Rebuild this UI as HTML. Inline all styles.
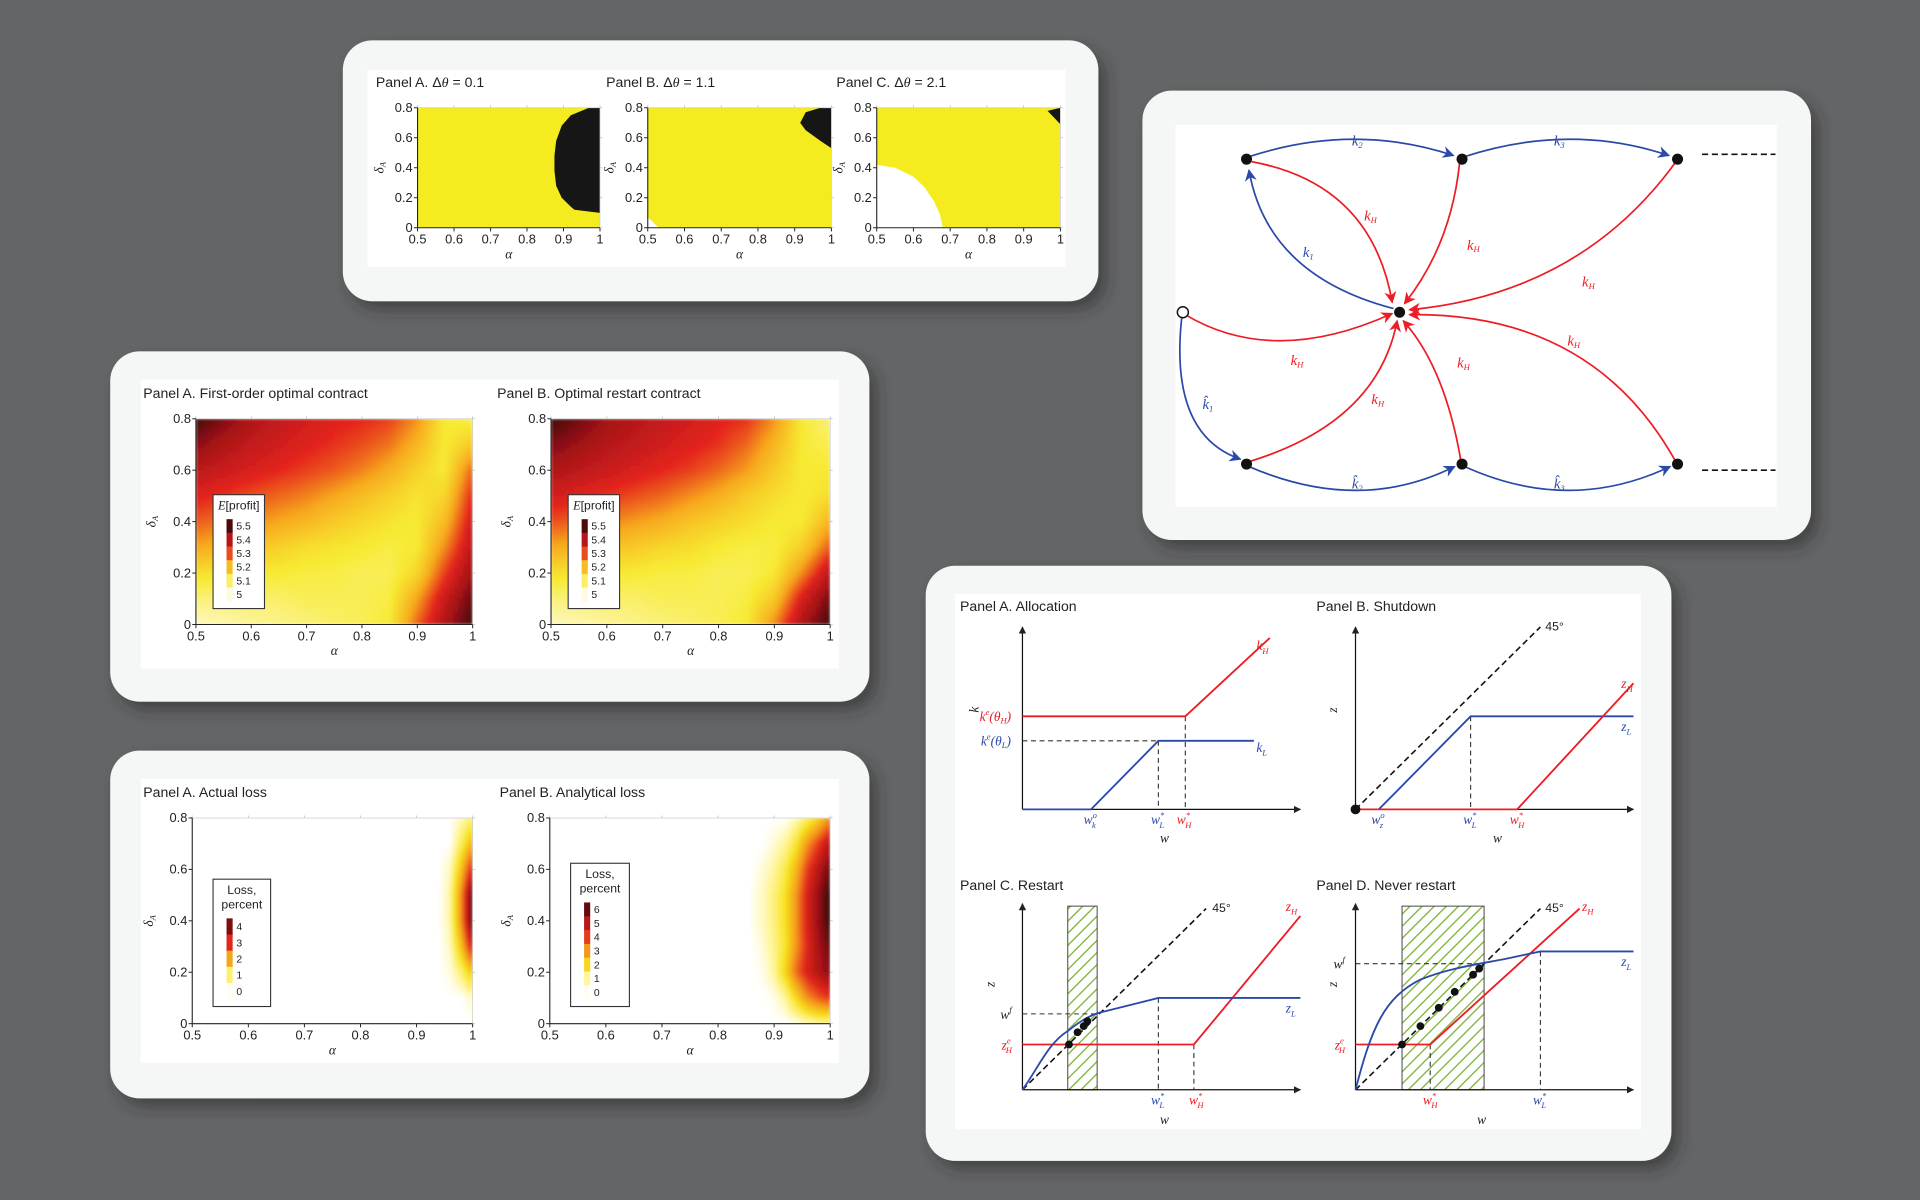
<!DOCTYPE html>
<html><head><meta charset="utf-8"><title>Figures collage</title>
<style>
html,body{margin:0;padding:0;background:#646567;}
svg{display:block;}
text{font-family:"Liberation Sans",sans-serif;}
.m{font-family:"Liberation Serif",serif;font-style:italic;}
</style></head>
<body>
<svg id="root" xmlns="http://www.w3.org/2000/svg" width="1920" height="1200" viewBox="0 0 1568 980" preserveAspectRatio="none">
<defs>
<filter id="shadow" x="-10%" y="-10%" width="130%" height="130%"><feDropShadow dx="6" dy="7" stdDeviation="6" flood-color="#2b2b2b" flood-opacity="0.55"/></filter>
<filter id="blur2" x="-5%" y="-5%" width="110%" height="110%"><feGaussianBlur stdDeviation="1.2"/></filter>
<pattern id="hatch" width="7" height="7" patternUnits="userSpaceOnUse" patternTransform="rotate(45)"><rect width="7" height="7" fill="#fff"/><line x1="0" y1="0" x2="0" y2="7" stroke="#7fb53a" stroke-width="2.2"/></pattern>
<marker id="arB" viewBox="0 0 10 10" refX="9" refY="5" markerWidth="7" markerHeight="7" orient="auto"><path d="M0,0 L10,5 L0,10 L3,5 z" fill="#2b49a8"/></marker>
<marker id="arR" viewBox="0 0 10 10" refX="9" refY="5" markerWidth="7" markerHeight="7" orient="auto"><path d="M0,0 L10,5 L0,10 L3,5 z" fill="#ee1c24"/></marker>
<marker id="arK" viewBox="0 0 10 10" refX="9" refY="5" markerWidth="6" markerHeight="6" orient="auto"><path d="M0,0 L10,5 L0,10 z" fill="#222"/></marker>
</defs>
<rect width="1568" height="980" fill="#646567"/>
<g id="cards"></g>
</svg>
<script>
// ---------- DATA ----------
const alphaTicks = [0.5,0.6,0.7,0.8,0.9,1];
const alphaTickLabels = ["0.5","0.6","0.7","0.8","0.9","1"];
const deltaTicks = [0,0.2,0.4,0.6,0.8];
const deltaTickLabels = ["0","0.2","0.4","0.6","0.8"];
// Figure 1 region boundaries (alpha, delta) pairs
const blackA_alpha = [1.0,0.97,0.92,0.895,0.88,0.875,0.875,0.88,0.895,0.92,0.93,1.0];
const blackA_delta = [0.8,0.8,0.75,0.68,0.58,0.48,0.38,0.28,0.2,0.14,0.12,0.1];
const blackB_alpha = [1.0,0.97,0.93,0.915,0.93,0.97,1.0];
const blackB_delta = [0.8,0.8,0.77,0.7,0.65,0.58,0.53];
const whiteB_alpha = [0.5,0.5,0.53];
const whiteB_delta = [0,0.07,0];
const blackC_alpha = [1.0,0.965,1.0];
const blackC_delta = [0.8,0.78,0.69];
const whiteC_alpha = [0.5,0.5,0.55,0.6,0.63,0.655,0.672,0.68];
const whiteC_delta = [0,0.42,0.4,0.34,0.27,0.18,0.09,0];
// Figure 2 expected profit grid (rows delta 0.8 -> 0, cols alpha 0.5..1 step .05)
const profitAlpha = [0.5,0.55,0.6,0.65,0.7,0.75,0.8,0.85,0.9,0.95,1.0];
const profitDelta = [0.8,0.7,0.6,0.5,0.4,0.3,0.2,0.1,0.0];
const profitA = [
 [5.48,5.43,5.38,5.35,5.33,5.31,5.30,5.28,5.22,5.10,5.08],
 [5.42,5.38,5.35,5.33,5.31,5.29,5.27,5.24,5.18,5.10,5.15],
 [5.36,5.34,5.32,5.30,5.28,5.26,5.23,5.19,5.14,5.10,5.25],
 [5.31,5.29,5.27,5.25,5.23,5.20,5.17,5.14,5.11,5.13,5.30],
 [5.26,5.24,5.22,5.20,5.18,5.15,5.13,5.11,5.10,5.17,5.33],
 [5.20,5.18,5.16,5.14,5.12,5.11,5.10,5.09,5.10,5.22,5.36],
 [5.12,5.11,5.10,5.10,5.09,5.09,5.08,5.08,5.13,5.28,5.40],
 [5.06,5.06,5.07,5.07,5.08,5.08,5.08,5.09,5.20,5.34,5.45],
 [5.02,5.03,5.04,5.05,5.06,5.07,5.08,5.10,5.25,5.38,5.48]];
const profitB = [
 [5.48,5.44,5.40,5.37,5.35,5.33,5.31,5.29,5.22,5.10,5.06],
 [5.43,5.40,5.37,5.35,5.33,5.31,5.29,5.25,5.18,5.10,5.08],
 [5.38,5.36,5.34,5.32,5.30,5.28,5.25,5.21,5.15,5.10,5.10],
 [5.33,5.31,5.29,5.27,5.25,5.22,5.19,5.15,5.12,5.10,5.12],
 [5.27,5.25,5.23,5.21,5.19,5.16,5.14,5.12,5.10,5.10,5.18],
 [5.20,5.18,5.16,5.15,5.13,5.12,5.10,5.09,5.09,5.14,5.26],
 [5.12,5.11,5.10,5.10,5.09,5.09,5.08,5.08,5.10,5.22,5.36],
 [5.06,5.06,5.07,5.07,5.08,5.08,5.08,5.09,5.15,5.32,5.44],
 [5.02,5.03,5.04,5.05,5.06,5.07,5.08,5.10,5.22,5.38,5.48]];
const profitLegendLabels = ["5.5","5.4","5.3","5.2","5.1","5"];
// Figure 3 loss grid (rows delta 0.8 -> 0, cols alpha 0.86..1 step .02)
const lossAlpha = [0.86,0.88,0.90,0.92,0.94,0.96,0.98,1.0];
const lossDelta = [0.8,0.7,0.6,0.5,0.4,0.3,0.2,0.1,0.0];
const lossA = [
 [0,0,0,0,0,0,0.2,0.5],
 [0,0,0,0,0,0,0.6,1.4],
 [0,0,0,0,0,0.2,1.2,2.6],
 [0,0,0,0,0,0.3,1.7,3.8],
 [0,0,0,0,0,0.3,1.7,3.8],
 [0,0,0,0,0,0.2,1.2,2.8],
 [0,0,0,0,0,0.1,0.5,1.2],
 [0,0,0,0,0,0,0,0.2],
 [0,0,0,0,0,0,0,0]];
const lossB = [
 [0,0,0,0,0.3,0.8,1.5,2.5],
 [0,0,0.2,0.5,1.2,2.5,3.5,4.5],
 [0,0.2,0.5,1.0,2.0,3.5,4.5,5.5],
 [0.1,0.3,0.7,1.3,2.5,4.0,5.0,6.0],
 [0.1,0.3,0.7,1.3,2.5,4.0,5.0,6.0],
 [0,0.2,0.6,1.2,2.5,3.8,4.8,5.5],
 [0,0.1,0.5,1.5,3.0,4.0,4.6,5.2],
 [0,0,0.1,0.5,1.5,2.6,3.2,3.6],
 [0,0,0,0,0.1,0.3,0.5,0.5]];
const lossLegendA = ["4","3","2","1","0"];
const lossLegendB = ["6","5","4","3","2","1","0"];

// ---------- HELPERS ----------
const NS = "http://www.w3.org/2000/svg";
const root = document.getElementById('cards');
function mk(parent, tag, attrs, name, txt){
  const el = document.createElementNS(NS, tag);
  for (const k in attrs) el.setAttribute(k, attrs[k]);
  
  
  if (txt !== undefined) el.textContent = txt;
  parent.appendChild(el);
  return el;
}
function tx(parent, x, y, s, name, o){
  o = o || {};
  const a = {x:x, y:y, 'font-size': o.fs || 10, fill: o.fill || '#222'};
  if (o.anchor) a['text-anchor'] = o.anchor;
  if (o.cls) a['class'] = o.cls;
  if (o.transform) a.transform = o.transform;
  const t = mk(parent, 'text', a, name);
  t.innerHTML = s;
  return t;
}
function lerpColor(stops, t){
  t = Math.max(0, Math.min(1, t));
  for (let i=1;i<stops.length;i++){
    if (t <= stops[i][0]){
      const a = stops[i-1], b = stops[i], f = (t-a[0])/(b[0]-a[0]||1);
      const ca = a[1], cb = b[1];
      const c = [0,1,2].map(j => Math.round(ca[j] + (cb[j]-ca[j])*f));
      return 'rgb('+c.join(',')+')';
    }
  }
  return 'rgb('+stops[stops.length-1][1].join(',')+')';
}
const profitStops = [[0,[255,251,225]],[0.2,[247,234,50]],[0.4,[247,168,30]],[0.6,[228,36,28]],[0.8,[160,18,24]],[1,[40,6,6]]];
const lossStops = [[0,[255,255,255]],[0.08,[255,246,160]],[0.22,[247,226,30]],[0.42,[245,150,28]],[0.62,[226,40,26]],[0.82,[160,16,24]],[1,[45,5,5]]];

function card(x,y,w,h,name,inner){
  const g = mk(root,'g',{},name);
  mk(g,'rect',{x:x,y:y,width:w,height:h,rx:24,ry:24,fill:'#f5f7f6',filter:'url(#shadow)'},name+'-bg');
  if (inner) mk(g,'rect',{x:inner[0],y:inner[1],width:inner[2],height:inner[3],fill:'#ffffff'},name+'-plot-area');
  return g;
}
function axes(g, x0,x1,y0,y1, pre, yl){
  const sx = a => x0 + (a-0.5)/0.5*(x1-x0);
  const sy = d => y0 - d/0.8*(y0-y1);
  mk(g,'line',{x1:x0,y1:y1,x2:x1,y2:y1,stroke:'#ccc','stroke-width':0.6},pre+'-frame-top');
  mk(g,'line',{x1:x1,y1:y1,x2:x1,y2:y0,stroke:'#ccc','stroke-width':0.6},pre+'-frame-right');
  mk(g,'line',{x1:x0,y1:y0,x2:x1,y2:y0,stroke:'#222','stroke-width':0.9},pre+'-x-axis');
  mk(g,'line',{x1:x0,y1:y1,x2:x0,y2:y0,stroke:'#222','stroke-width':0.9},pre+'-y-axis');
  alphaTicks.forEach((a,i)=>{
    mk(g,'line',{x1:sx(a),y1:y0,x2:sx(a),y2:y0+3,stroke:'#222','stroke-width':0.8},pre+'-x-tick');
    mk(g,'line',{x1:sx(a),y1:y1,x2:sx(a),y2:y1-2,stroke:'#bbb','stroke-width':0.6},pre+'-x-tick-top');
    tx(g,sx(a),y0+13,alphaTickLabels[i],pre+'-x-tick-label',{anchor:'middle',fs:10.5});
  });
  deltaTicks.forEach((d,i)=>{
    mk(g,'line',{x1:x0-3,y1:sy(d),x2:x0,y2:sy(d),stroke:'#222','stroke-width':0.8},pre+'-y-tick');
    mk(g,'line',{x1:x1,y1:sy(d),x2:x1+2,y2:sy(d),stroke:'#bbb','stroke-width':0.6},pre+'-y-tick-right');
    tx(g,x0-4,sy(d)+3.5,deltaTickLabels[i],pre+'-y-tick-label',{anchor:'end',fs:10.5});
  });
  tx(g,(x0+x1)/2,y0+25,'α',pre+'-x-axis-title',{anchor:'middle',fs:11,cls:'m'});
  tx(g,yl,(y0+y1)/2,'δ<tspan font-size="7" dy="2">A</tspan>',pre+'-y-axis-title',{anchor:'middle',fs:11,cls:'m',transform:'rotate(-90 '+yl+' '+((y0+y1)/2)+')'});
  return {sx, sy};
}
function regionPath(g, sc, al, de, fill, name){
  let d = '';
  al.forEach((a,i)=>{ d += (i?'L':'M') + sc.sx(a).toFixed(1)+','+sc.sy(de[i]).toFixed(1); });
  mk(g,'path',{d:d+'Z',fill:fill},name);
}

// ---------- CARD 1 ----------
(function(){
  const g = card(280,33,617,213,'regime-card',[300,57,570,161]);
  const panels = [
    {x0:341,x1:490,t:'Panel A. Δ<tspan class="m">θ</tspan> = 0.1',tx:307,regs:[[blackA_alpha,blackA_delta,'#161616','black-region-a']]},
    {x0:529,x1:679,t:'Panel B. Δ<tspan class="m">θ</tspan> = 1.1',tx:495,regs:[[blackB_alpha,blackB_delta,'#161616','black-region-b'],[whiteB_alpha,whiteB_delta,'#ffffff','white-region-b']]},
    {x0:716,x1:866,t:'Panel C. Δ<tspan class="m">θ</tspan> = 2.1',tx:683,regs:[[blackC_alpha,blackC_delta,'#161616','black-region-c'],[whiteC_alpha,whiteC_delta,'#ffffff','white-region-c']]}];
  panels.forEach((p,i)=>{
    const pg = mk(g,'g',{},'regime-panel-'+'abc'[i]);
    tx(pg,p.tx,71,p.t,'panel-title',{fs:11.5});
    mk(pg,'rect',{x:p.x0,y:88,width:p.x1-p.x0,height:98,fill:'#f4ec1e'},'yellow-region');
    const sc = {sx:a=>p.x0+(a-0.5)/0.5*(p.x1-p.x0), sy:d=>186-d/0.8*98};
    p.regs.forEach(r=>regionPath(pg,sc,r[0],r[1],r[2],r[3]));
    axes(pg,p.x0,p.x1,186,88,'regime-'+'abc'[i],p.x0-28);
  });
})();

// ---------- heatmap (bilinear shading between data grid points) ----------
function heatmap(g, sc, alphas, deltas, grid, scaleFn, clipId, x0,x1,y0,y1, name){
  const cp = mk(g,'clipPath',{id:clipId},name+'-clip');
  mk(cp,'rect',{x:x0,y:y1,width:x1-x0,height:y0-y1},name+'-clip-rect');
  const outer = mk(g,'g',{'clip-path':'url(#'+clipId+')'},name);
  const inner = mk(outer,'g',{filter:'url(#blur2)'},name+'-cells');
  const N = 6;
  for (let r=0;r<grid.length-1;r++){
    for (let c=0;c<grid[r].length-1;c++){
      const v00=grid[r][c], v01=grid[r][c+1], v10=grid[r+1][c], v11=grid[r+1][c+1];
      const xa=sc.sx(alphas[c]), xb=sc.sx(alphas[c+1]), ya=sc.sy(deltas[r]), yb=sc.sy(deltas[r+1]);
      const w=(xb-xa)/N, h=(yb-ya)/N;
      for (let i=0;i<N;i++) for (let j=0;j<N;j++){
        const fx=(j+0.5)/N, fy=(i+0.5)/N;
        const v=(v00*(1-fx)+v01*fx)*(1-fy)+(v10*(1-fx)+v11*fx)*fy;
        mk(inner,'rect',{x:(xa+j*w-0.3).toFixed(2),y:(ya+i*h-0.3).toFixed(2),width:(w+0.6).toFixed(2),height:(h+0.6).toFixed(2),fill:scaleFn(v)},'heatmap-cell');
      }
    }
  }
}
function legendBox(g,x,y,w,h,titleLines,labels,scaleFn,vals,name){
  const lg = mk(g,'g',{},name);
  mk(lg,'rect',{x:x,y:y,width:w,height:h,fill:'#fff',stroke:'#333','stroke-width':0.9},name+'-box');
  titleLines.forEach((s,i)=>tx(lg,x+w/2,y+12+i*12,s,name+'-title',{anchor:'middle',fs:10}));
  const top = y+8+titleLines.length*12, bot = y+h-6, step=(bot-top)/labels.length;
  vals.forEach((v,i)=>{
    mk(lg,'rect',{x:x+11,y:top+i*step,width:5,height:step+0.5,fill:scaleFn(v)},name+'-swatch');
    tx(lg,x+19,top+i*step+step/2+3,labels[i],name+'-label',{fs:8.5});
  });
}

// ---------- CARD 2 (profit) ----------
(function(){
  const g = card(90,287,620,286,'profit-card',[115,310,570,236]);
  const pscale = v => lerpColor(profitStops,(v-5.0)/0.5);
  const P = [{x0:160,x1:386,t:'Panel A. First-order optimal contract',tx:117,grid:profitA,lx:174},
             {x0:450,x1:678,t:'Panel B. Optimal restart contract',tx:406,grid:profitB,lx:464}];
  P.forEach((p,i)=>{
    const pg = mk(g,'g',{},'profit-panel-'+'ab'[i]);
    tx(pg,p.tx,325,p.t,'panel-title',{fs:11.5});
    const sc = {sx:a=>p.x0+(a-0.5)/0.5*(p.x1-p.x0), sy:d=>510-d/0.8*168};
    heatmap(pg,sc,profitAlpha,profitDelta,p.grid,pscale,'pclip'+i,p.x0,p.x1,510,342,'profit-heatmap');
    axes(pg,p.x0,p.x1,510,342,'profit-'+'ab'[i],p.x0-33);
    legendBox(pg,p.lx,404,42,93,['<tspan class="m">E</tspan>[profit]'],profitLegendLabels,pscale,[5.47,5.37,5.27,5.17,5.07,5.0],'profit-legend');
  });
})();

// ---------- CARD 3 (loss) ----------
(function(){
  const g = card(90,613,620,284,'loss-card',[115,636,570,232]);
  const P = [{x0:157,x1:386,t:'Panel A. Actual loss',tx:117,grid:lossA,max:4,lx:174,ly:718,lh:104,labs:lossLegendA},
             {x0:449,x1:678,t:'Panel B. Analytical loss',tx:408,grid:lossB,max:6,lx:466,ly:705,lh:117,labs:lossLegendB}];
  P.forEach((p,i)=>{
    const pg = mk(g,'g',{},'loss-panel-'+'ab'[i]);
    tx(pg,p.tx,651,p.t,'panel-title',{fs:11.5});
    const sc = {sx:a=>p.x0+(a-0.5)/0.5*(p.x1-p.x0), sy:d=>836-d/0.8*168};
    const ls = v => lerpColor(lossStops, v/p.max);
    heatmap(pg,sc,lossAlpha,lossDelta,p.grid,ls,'lclip'+i,p.x0,p.x1,836,668,'loss-heatmap');
    axes(pg,p.x0,p.x1,836,668,'loss-'+'ab'[i],p.x0-32);
    const vals = p.labs.map(s=>Math.max(parseFloat(s)-0.5,0.05));
    legendBox(pg,p.lx,p.ly,p.lh>110?48:47,p.lh,['Loss,','percent'],p.labs,ls,vals,'loss-legend');
  });
})();

// ---------- CARD 4 (network) ----------
(function(){
  const g = card(933,74,546,367,'network-card',[960,102,491,312]);
  const B='#2b49a8', R='#ee1c24';
  function edge(p0,c,p1,col,name){
    mk(g,'path',{d:'M'+p0+' Q'+c+' '+p1,fill:'none',stroke:col,'stroke-width':1.4,'marker-end':col===B?'url(#arB)':'url(#arR)'},name);
  }
  edge('1020,128','1105,100','1187,127',B,'edge-k2');
  edge('1196,128','1282,100','1363,127',B,'edge-k3');
  edge('1138,252','1035,225','1020,139',B,'edge-k1');
  edge('1022,132','1120,150','1137,247',R,'edge-kH-1');
  edge('1192,133','1185,200','1147,248',R,'edge-kH-2');
  edge('1368,133','1290,240','1151,253',R,'edge-kH-3');
  edge('968,257','1040,300','1137,256',R,'edge-kH-4');
  edge('1020,377','1125,345','1141,262',R,'edge-kH-5');
  edge('1193,376','1180,300','1146,262',R,'edge-kH-6');
  edge('1368,376','1300,255','1151,257',R,'edge-kH-7');
  edge('965,260','955,355','1013,375',B,'edge-khat1');
  edge('1020,381','1110,420','1188,381',B,'edge-khat2');
  edge('1196,381','1282,420','1364,381',B,'edge-khat3');
  [[1018,130],[1194,130],[1370,130],[1143,255],[1018,379],[1194,379],[1370,379]].forEach(p=>mk(g,'circle',{cx:p[0],cy:p[1],r:4.5,fill:'#111'},'node'));
  mk(g,'circle',{cx:966,cy:255,r:4.5,fill:'#fff',stroke:'#111','stroke-width':1.2},'start-node');
  mk(g,'line',{x1:1390,y1:126,x2:1450,y2:126,stroke:'#111','stroke-width':1.3,'stroke-dasharray':'5,3'},'continuation-top');
  mk(g,'line',{x1:1390,y1:384,x2:1450,y2:384,stroke:'#111','stroke-width':1.3,'stroke-dasharray':'5,3'},'continuation-bottom');
  const L=[[1104,119,'k<tspan font-size="7" dy="2">2</tspan>',B],[1269,119,'k<tspan font-size="7" dy="2">3</tspan>',B],[1064,210,'k<tspan font-size="7" dy="2">1</tspan>',B],
   [1114,180,'k<tspan font-size="7" dy="2">H</tspan>',R],[1198,204,'k<tspan font-size="7" dy="2">H</tspan>',R],[1292,234,'k<tspan font-size="7" dy="2">H</tspan>',R],
   [1054,298,'k<tspan font-size="7" dy="2">H</tspan>',R],[1120,330,'k<tspan font-size="7" dy="2">H</tspan>',R],[1190,300,'k<tspan font-size="7" dy="2">H</tspan>',R],[1280,282,'k<tspan font-size="7" dy="2">H</tspan>',R],
   [982,334,'k̂<tspan font-size="7" dy="2">1</tspan>',B],[1104,399,'k̂<tspan font-size="7" dy="2">2</tspan>',B],[1269,399,'k̂<tspan font-size="7" dy="2">3</tspan>',B]];
  L.forEach(l=>tx(g,l[0],l[1],l[2],'edge-label',{fs:12,cls:'m',fill:l[3]}));
})();

// ---------- CARD 5 (allocation diagrams) ----------
(function(){
  const g = card(756,462,609,486,'policy-card',[780,485,560,437]);
  const B='#2b49a8', R='#ee1c24', K='#111';
  function pl(pg,pts,col,name,dash,w){
    mk(pg,'polyline',{points:pts,fill:'none',stroke:col,'stroke-width':w||1.5,'stroke-dasharray':dash||'none'},name);
  }
  function ax(pg,x0,y0,yt,xr,pre){
    mk(pg,'line',{x1:x0,y1:y0,x2:x0,y2:yt,stroke:K,'stroke-width':1,'marker-end':'url(#arK)'},pre+'-y-axis');
    mk(pg,'line',{x1:x0,y1:y0,x2:xr,y2:y0,stroke:K,'stroke-width':1,'marker-end':'url(#arK)'},pre+'-x-axis');
  }
  const sub=(b,s)=>b+'<tspan font-size="7" dy="3">'+s+'</tspan>';
  const sup=(b,p,s)=>b+'<tspan font-size="7" dy="-5">'+p+'</tspan><tspan font-size="7" dx="-4" dy="8">'+s+'</tspan>';
  // Panel A
  let pg = mk(g,'g',{},'allocation-panel');
  tx(pg,784,499,'Panel A. Allocation','panel-title',{fs:11.5});
  ax(pg,835,661,512,1062,'allocation');
  pl(pg,'835,605 946,605','#333','kL-level-guide','4,3',0.9);
  pl(pg,'946,605 946,661','#333','wL-guide','4,3',0.9);
  pl(pg,'968,585 968,661','#333','wH-guide','4,3',0.9);
  pl(pg,'835,585 968,585 1037,521',R,'kH-line');
  pl(pg,'835,661 891,661 946,605 1024,605',B,'kL-line');
  tx(pg,795,586,'k','y-axis-title',{fs:11,cls:'m',transform:'rotate(-90 795 582)'});
  tx(pg,800,589,'k<tspan font-size="7" dy="-5">e</tspan><tspan dy="5">(θ</tspan><tspan font-size="7" dy="2">H</tspan><tspan dy="-2">)</tspan>','ke-thetaH-label',{fs:11,cls:'m',fill:R});
  tx(pg,801,609,'k<tspan font-size="7" dy="-5">e</tspan><tspan dy="5">(θ</tspan><tspan font-size="7" dy="2">L</tspan><tspan dy="-2">)</tspan>','ke-thetaL-label',{fs:11,cls:'m',fill:B});
  tx(pg,1026,531,sub('k','H'),'kH-label',{fs:11,cls:'m',fill:R});
  tx(pg,1026,614,sub('k','L'),'kL-label',{fs:11,cls:'m',fill:B});
  tx(pg,885,673,sup('w','o','k'),'wk-label',{fs:11,cls:'m',fill:B});
  tx(pg,940,673,sup('w','*','L'),'wL-label',{fs:11,cls:'m',fill:B});
  tx(pg,961,673,sup('w','*','H'),'wH-label',{fs:11,cls:'m',fill:R});
  tx(pg,951,688,'w','x-axis-title',{fs:11,cls:'m',anchor:'middle'});
  // Panel B
  pg = mk(g,'g',{},'shutdown-panel');
  tx(pg,1075,499,'Panel B. Shutdown','panel-title',{fs:11.5});
  ax(pg,1107,661,512,1334,'shutdown');
  pl(pg,'1107,661 1258,512',K,'diagonal-45','5,3',1.3);
  tx(pg,1262,515,'45°','diagonal-label',{fs:10});
  pl(pg,'1201,585 1201,661','#333','wL-guide','4,3',0.9);
  pl(pg,'1126,661 1201,585 1334,585',B,'zL-line');
  pl(pg,'1107,661 1239,661 1334,558',R,'zH-line');
  mk(pg,'circle',{cx:1107,cy:661,r:4,fill:K},'origin-dot');
  tx(pg,1324,562,sub('z','H'),'zH-label',{fs:11,cls:'m',fill:R});
  tx(pg,1324,597,sub('z','L'),'zL-label',{fs:11,cls:'m',fill:B});
  tx(pg,1088,586,'z','y-axis-title',{fs:11,cls:'m',transform:'rotate(-90 1088 582)'});
  tx(pg,1120,673,sup('w','o','z'),'wz-label',{fs:11,cls:'m',fill:B});
  tx(pg,1195,673,sup('w','*','L'),'wL-label',{fs:11,cls:'m',fill:B});
  tx(pg,1233,673,sup('w','*','H'),'wH-label',{fs:11,cls:'m',fill:R});
  tx(pg,1223,688,'w','x-axis-title',{fs:11,cls:'m',anchor:'middle'});
  // Panel C
  pg = mk(g,'g',{},'restart-panel');
  tx(pg,784,727,'Panel C. Restart','panel-title',{fs:11.5});
  mk(pg,'rect',{x:872,y:740,width:24,height:150,fill:'url(#hatch)',stroke:'#444','stroke-width':0.8},'restart-region');
  ax(pg,835,890,738,1062,'restart');
  pl(pg,'835,890 985,742',K,'diagonal-45','5,3',1.3);
  tx(pg,990,745,'45°','diagonal-label',{fs:10});
  pl(pg,'835,828 896,828','#333','wf-guide','4,3',0.9);
  pl(pg,'946,815 946,890','#333','wL-guide','4,3',0.9);
  pl(pg,'975,853 975,890','#333','wH-guide','4,3',0.9);
  pl(pg,'835,853 975,853 1062,748',R,'zH-line');
  mk(pg,'path',{d:'M835,890 C848,872 856,852 872,842 C882,834 890,829 898,827 L946,815 L1062,815',fill:'none',stroke:B,'stroke-width':1.5},'zL-curve');
  [[873,853],[880,843],[885,838],[888,834]].forEach(p=>mk(pg,'circle',{cx:p[0],cy:p[1],r:3.2,fill:K},'iterate-dot'));
  tx(pg,1050,744,sub('z','H'),'zH-label',{fs:11,cls:'m',fill:R});
  tx(pg,1050,827,sub('z','L'),'zL-label',{fs:11,cls:'m',fill:B});
  tx(pg,808,810,'z','y-axis-title',{fs:11,cls:'m',transform:'rotate(-90 808 806)'});
  tx(pg,817,832,'w<tspan font-size="7" dy="-5">f</tspan>','wf-label',{fs:11,cls:'m'});
  tx(pg,818,857,sup('z','e','H'),'zHe-label',{fs:11,cls:'m',fill:R});
  tx(pg,940,902,sup('w','*','L'),'wL-label',{fs:11,cls:'m',fill:B});
  tx(pg,971,902,sup('w','*','H'),'wH-label',{fs:11,cls:'m',fill:R});
  tx(pg,951,918,'w','x-axis-title',{fs:11,cls:'m',anchor:'middle'});
  // Panel D
  pg = mk(g,'g',{},'never-restart-panel');
  tx(pg,1075,727,'Panel D. Never restart','panel-title',{fs:11.5});
  mk(pg,'rect',{x:1145,y:740,width:67,height:150,fill:'url(#hatch)',stroke:'#444','stroke-width':0.8},'no-restart-region');
  ax(pg,1107,890,738,1334,'never-restart');
  pl(pg,'1107,890 1258,742',K,'diagonal-45','5,3',1.3);
  tx(pg,1262,745,'45°','diagonal-label',{fs:10});
  pl(pg,'1107,787 1212,787','#333','wf-guide','4,3',0.9);
  pl(pg,'1258,777 1258,890','#333','wL-guide','4,3',0.9);
  pl(pg,'1168,853 1168,890','#333','wH-guide','4,3',0.9);
  pl(pg,'1107,853 1168,853 1290,742',R,'zH-line');
  mk(pg,'path',{d:'M1107,890 C1120,840 1130,815 1160,800 C1185,790 1210,787 1230,783 L1258,777 L1334,777',fill:'none',stroke:B,'stroke-width':1.5},'zL-curve');
  [[1145,853],[1160,838],[1175,823],[1188,810],[1203,796],[1208,791]].forEach(p=>mk(pg,'circle',{cx:p[0],cy:p[1],r:3.2,fill:K},'iterate-dot'));
  tx(pg,1292,744,sub('z','H'),'zH-label',{fs:11,cls:'m',fill:R});
  tx(pg,1324,789,sub('z','L'),'zL-label',{fs:11,cls:'m',fill:B});
  tx(pg,1088,810,'z','y-axis-title',{fs:11,cls:'m',transform:'rotate(-90 1088 806)'});
  tx(pg,1089,791,'w<tspan font-size="7" dy="-5">f</tspan>','wf-label',{fs:11,cls:'m'});
  tx(pg,1090,857,sup('z','e','H'),'zHe-label',{fs:11,cls:'m',fill:R});
  tx(pg,1162,902,sup('w','*','H'),'wH-label',{fs:11,cls:'m',fill:R});
  tx(pg,1252,902,sup('w','*','L'),'wL-label',{fs:11,cls:'m',fill:B});
  tx(pg,1210,918,'w','x-axis-title',{fs:11,cls:'m',anchor:'middle'});
})();
</script>
</body></html>
